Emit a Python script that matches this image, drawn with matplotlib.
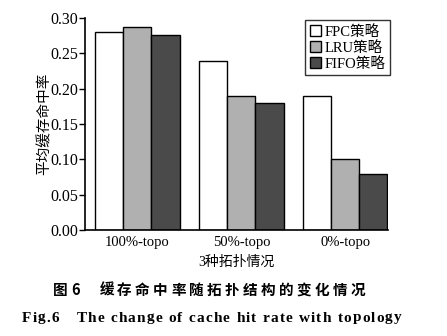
import matplotlib.pyplot as plt
import numpy as np

plt.rcParams['font.family'] = ['Liberation Serif', 'Noto Sans CJK SC']

topologies = ['100%-topo', '50%-topo', '0%-topo']
fpc = [0.28, 0.24, 0.19]
lru = [0.288, 0.19, 0.10]
fifo = [0.276, 0.18, 0.08]
series_names = ['FPC策略', 'LRU策略', 'FIFO策略']
colors = ['white', '#b0b0b0', '#4a4a4a']

W, H = 447, 336
fig = plt.figure(figsize=(W / 100, H / 100), dpi=100)
ax = fig.add_axes([0.19, 0.315, 0.678, 0.631])

x = np.arange(len(topologies))
w = 0.27
for i, (vals, name, c) in enumerate(zip([fpc, lru, fifo], series_names, colors)):
    ax.bar(x + (i - 1) * w, vals, w, color=c, edgecolor='black', linewidth=1.0, label=name)

ax.set_xlim(-0.505, 2.41)
ax.set_ylim(0, 0.30)
yt = np.arange(0, 0.301, 0.05)
ax.set_yticks(yt)
ax.set_yticklabels([f'{v:.2f}' for v in yt], fontsize=11.5)
ax.set_xticks(x)
ax.set_xticklabels(topologies, fontsize=10.5)
ax.tick_params(axis='x', length=0, pad=4)
ax.tick_params(axis='y', direction='out', length=4, width=1, pad=1)
ax.spines['top'].set_visible(False)
ax.spines['right'].set_visible(False)
ax.spines['left'].set_linewidth(1.2)
ax.spines['bottom'].set_linewidth(1.2)

ax.set_ylabel('平均缓存命中率', fontsize=10.5, labelpad=-1.5)
ax.set_xlabel('3种拓扑情况', fontsize=10, labelpad=5)

leg = ax.legend(loc='upper right', bbox_to_anchor=(1.005, 0.99), fontsize=10.5,
                frameon=True, fancybox=False, edgecolor='black',
                handlelength=0.8, handleheight=0.8, handletextpad=0.2,
                borderpad=0.3, labelspacing=0.15, borderaxespad=0)
leg.get_frame().set_linewidth(1.0)

renderer = fig.canvas.get_renderer()


def spaced_text(x0, y, s, gap, space_px, **kw):
    # draw a caption one character at a time with extra letter spacing (pixel units)
    xp = x0
    for ch in s:
        if ch == ' ':
            xp += space_px
            continue
        t = fig.text(xp / W, 1 - y / H, ch, ha='left', va='center', **kw)
        xp += t.get_window_extent(renderer).width + gap


spaced_text(53, 290, '图6   缓存命中率随拓扑结构的变化情况', 3.3, 5.5,
            fontsize=10.5, fontweight='bold', family=['Noto Sans CJK SC'])
spaced_text(22, 318, 'Fig.6   The change of cache hit rate with topology', 1.1, 5.5,
            fontsize=11, fontweight='bold')

fig.savefig('out.png', dpi=100)
